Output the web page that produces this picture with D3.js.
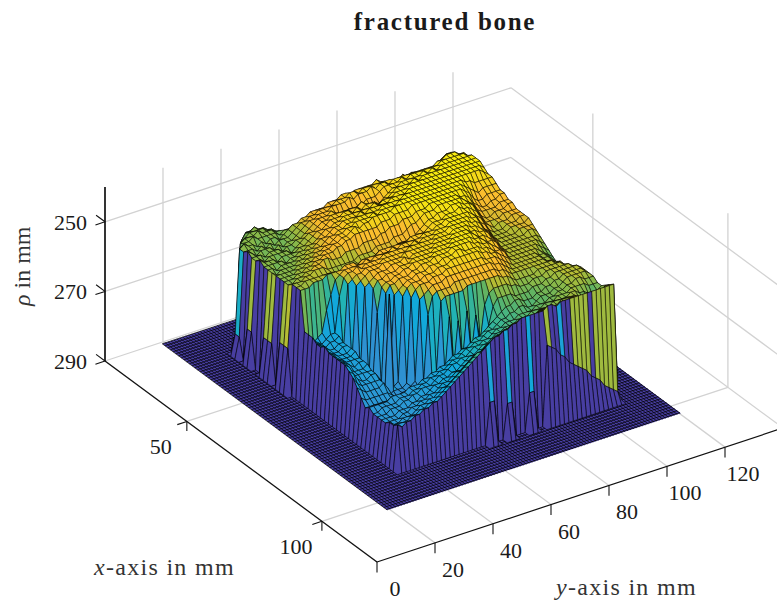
<!DOCTYPE html>
<html>
<head>
<meta charset="utf-8">
<script src="https://cdnjs.cloudflare.com/ajax/libs/d3/7.8.5/d3.min.js"></script>
<style>
    html, body { margin: 0; padding: 0; background: #fff; }
    text { font-family: "Liberation Serif", "DejaVu Serif", serif; fill: #1a1a1a; }
</style>
</head>
<body>
<div id="container"></div>
<script>
// rho values, one row per x position (1.5 mm apart, starting x = 25)
// each row runs along y from 34.5 mm, short rows are floor after the last value
var rhoRows = [
[290,290,290,290,290,264,262,262,263,264],
[290,290,290,290,263,261,261,260,261,261,262,263],
[290,290,290,262,261,260,260,260,260,261,261,262,263],
[290,290,261,260,260,260,259,260,260,260,261,261,262],
[290,261,260,260,259,260,260,260,260,260,261,260,260,261,290,290,290,290,290,290,290,290,290,290,290,290,290,290,290,290,290,290,290,290,290,290,290,290,290,290,290,290,290,290,258,257,256,256,257,259],
[260,259,260,260,261,260,261,260,260,261,260,259,258,258,257,257,256,256,256,256,255,255,255,254,254,255,254,254,254,254,254,253,254,255,255,255,255,254,255,255,255,257,259,258,255,254,253,253,254,255],
[260,260,260,261,260,261,260,261,260,260,260,259,258,257,257,256,256,255,255,255,255,254,254,254,253,253,254,253,253,253,253,253,253,253,254,254,254,254,253,254,255,256,256,255,253,252,251,251,252,253],
[259,260,261,260,260,260,261,260,261,260,260,259,258,257,256,256,255,255,255,254,254,254,254,253,254,253,253,253,252,253,252,252,253,252,252,252,252,252,252,252,252,252,252,251,251,250,250,250,251,251],
[260,260,260,261,260,260,260,261,260,260,259,259,258,257,256,255,255,255,254,255,256,256,255,256,255,255,254,254,254,253,252,252,252,252,251,252,251,251,251,251,251,251,251,250,250,250,250,250,250,251],
[260,260,261,260,260,260,260,260,261,260,259,258,257,257,256,255,255,254,254,254,254,254,254,254,253,254,255,256,255,254,253,252,252,251,251,251,251,251,250,251,250,251,250,250,250,250,250,250,250,250],
[259,260,260,260,261,260,260,260,260,259,259,258,257,256,256,255,254,254,254,253,253,254,253,254,253,253,253,254,254,253,252,251,251,251,251,250,251,250,250,250,250,250,250,250,250,250,250,250,250,250],
[260,260,260,260,260,261,260,260,259,259,258,258,257,256,255,255,254,254,253,253,253,253,253,253,253,252,253,252,252,252,251,251,251,250,250,250,250,250,250,250,250,250,250,250,250,250,250,250,250,250],
[260,260,261,260,260,260,260,259,259,258,258,257,256,256,255,254,254,253,253,253,253,252,253,252,252,252,252,252,251,251,251,251,250,250,250,250,250,250,250,250,250,250,250,250,250,250,250,250,250,251],
[260,261,260,260,260,260,259,259,258,258,257,257,256,255,255,254,254,253,253,252,252,252,252,252,252,251,251,251,251,251,250,250,250,250,250,250,250,250,250,250,250,250,250,250,250,250,250,250,251,252],
[260,260,260,260,260,259,259,258,258,257,257,256,256,255,254,254,253,253,252,252,252,252,251,252,251,251,251,251,250,250,250,250,250,250,250,250,250,250,250,250,250,250,250,251,251,252,252,252,252,252],
[260,260,260,260,259,259,258,258,257,257,256,256,255,255,254,254,253,252,253,252,252,251,251,251,251,251,250,250,250,250,250,250,250,250,250,250,250,250,250,250,250,250,251,252,253,254,253,253,253,253],
[260,260,260,259,259,258,258,257,257,256,256,256,255,255,254,254,253,253,253,253,253,253,252,252,252,251,251,251,251,250,250,250,250,250,250,250,250,250,250,250,250,251,252,254,255,255,254,254,254,254],
[260,260,259,259,258,258,257,257,256,256,257,257,257,256,256,256,256,255,255,255,255,254,254,253,253,253,252,252,252,251,251,251,250,250,250,250,250,250,250,251,251,252,254,255,256,256,255,255,254,254],
[259,259,259,258,258,257,257,257,258,258,258,258,258,258,258,257,257,257,257,256,256,256,256,255,255,255,254,253,253,252,251,251,251,250,250,250,250,250,250,251,252,253,255,256,256,256,256,255,255,255],
[259,259,258,258,258,258,258,258,258,259,259,259,258,259,258,258,258,258,257,257,257,257,257,256,256,256,256,255,254,253,252,252,251,251,251,250,250,250,251,251,252,254,256,257,257,256,256,256,255,255],
[259,259,259,258,258,258,257,257,257,257,256,256,256,257,256,256,256,256,255,255,255,255,255,255,255,254,254,254,254,253,252,252,252,251,251,251,250,251,251,252,253,255,257,257,257,257,256,256,256,256],
[270,272,274,273,272,266,262,258,257,256,256,256,256,256,255,256,255,255,255,255,254,255,254,254,254,254,254,253,253,253,252,252,251,251,251,251,251,251,252,253,254,256,257,258,257,257,257,256,256,256],
[270,272,273,274,273,272,272,262,257,256,256,255,256,255,255,255,255,254,254,254,254,254,254,254,253,254,253,253,253,252,252,252,251,251,251,251,251,252,252,254,255,257,258,258,258,257,257,257,256,256],
[270,272,273,274,273,273,272,277,258,257,256,256,255,255,255,255,254,254,254,254,254,254,253,253,253,253,253,253,252,252,252,251,251,251,251,251,252,252,253,255,256,258,258,258,258,257,257,257,257,256],
[271,272,273,274,274,273,273,277,280,258,257,256,255,255,255,254,254,254,254,254,253,253,253,253,253,253,253,252,252,252,252,251,251,251,251,252,252,253,254,255,257,258,258,258,258,258,257,257,257,257],
[271,272,274,274,274,273,273,276,281,282,258,257,256,255,255,255,254,254,254,253,254,253,253,253,253,253,252,252,252,252,251,251,251,251,252,252,253,253,254,256,257,258,258,258,258,258,258,257,257,258],
[270,272,273,274,274,274,273,276,280,283,284,258,256,256,255,255,255,254,254,254,253,253,253,253,253,252,252,252,252,251,251,251,251,251,252,253,253,254,255,256,258,258,258,258,258,258,258,258,258,259],
[271,272,274,274,274,274,273,276,281,282,283,264,257,256,256,255,255,254,254,253,253,253,253,253,252,252,252,252,251,251,251,251,251,252,252,253,254,254,255,257,258,258,258,258,258,258,258,258,259,260],
[271,272,273,274,274,274,274,276,280,283,282,284,258,256,256,255,255,255,254,254,253,253,253,252,252,252,252,251,251,251,251,251,252,252,253,253,254,255,256,257,258,258,258,258,258,258,258,259,260,261],
[271,272,273,274,275,274,274,277,281,282,284,283,283,258,257,256,255,255,254,254,254,253,253,253,252,252,252,251,251,252,252,252,252,253,253,254,255,255,256,258,258,258,258,258,258,258,259,260,261,262],
[271,272,274,275,275,275,274,277,281,283,283,256,283,282,258,256,255,255,255,254,254,254,253,253,253,252,252,252,252,252,252,252,253,253,254,254,255,256,257,258,258,258,258,258,258,259,259,260,262,263],
[271,272,275,275,275,275,275,277,281,282,284,283,283,283,282,258,256,255,255,255,254,254,254,253,253,253,253,253,253,253,253,253,254,254,254,255,256,257,258,258,258,258,258,258,258,259,259,260,262,263],
[272,273,275,276,276,275,275,277,280,283,283,284,283,283,282,281,258,257,256,255,255,255,254,254,254,254,254,254,254,254,254,254,254,255,255,256,257,258,258,258,258,258,258,258,258,259,259,260,262,263],
[273,275,276,276,276,276,276,278,281,282,284,283,283,284,283,282,281,262,257,256,256,256,256,255,255,255,255,255,255,255,255,255,255,256,256,257,258,258,258,258,258,258,258,258,258,258,259,259,261,262],
[275,276,277,277,277,277,276,278,281,283,283,284,284,283,282,282,281,279,278,258,257,257,257,257,257,256,256,256,256,256,256,256,256,257,257,258,259,259,259,259,259,258,258,258,258,258,258,259,260,261],
[277,278,278,278,278,278,278,279,280,282,283,283,283,282,282,281,281,280,279,278,262,277,264,276,262,275,264,272,262,259,258,258,258,258,259,259,260,260,260,259,259,259,258,258,258,258,258,258,259,260],
[279,279,279,279,279,279,279,279,280,280,280,280,280,280,279,279,279,278,278,276,276,275,275,274,273,272,272,270,267,262,260,260,260,260,261,261,261,261,260,260,260,259,259,258,258,258,258,258,258,259],
[278,278,278,278,278,277,277,277,277,276,276,276,275,275,274,274,273,273,272,271,271,270,270,269,268,268,267,266,265,264,263,262,262,261,261,262,262,262,261,261,260,260,259,259,258,258,258,258,258,259],
[279,279,278,278,278,278,277,277,277,276,276,275,275,274,274,273,273,272,271,271,270,269,269,268,268,267,266,266,265,264,264,263,263,262,262,263,263,262,261,261,261,260,260,259,258,258,258,258,258,259],
[279,279,279,278,278,278,277,277,276,276,275,275,275,274,273,273,272,271,271,270,270,269,268,268,267,267,266,265,265,264,264,264,263,263,263,263,262,262,262,261,261,260,260,259,259,258,258,259,259,259],
[279,279,279,279,278,278,278,277,277,276,276,275,274,274,273,273,272,272,271,270,269,269,268,267,267,266,265,265,264,264,264,263,263,263,262,262,262,261,261,261,260,260,260,259,259,259,259,260,260,260],
[279,279,279,279,278,278,277,277,276,276,275,275,274,273,273,272,271,271,270,269,268,268,267,266,266,265,265,264,264,263,263,263,262,262,262,261,261,261,260,260,260,260,259,259,260,260,261,262,261,260],
[278,279,279,278,278,278,277,276,276,275,275,274,273,273,272,271,270,269,268,267,267,266,265,265,264,263,263,262,262,262,262,261,261,261,260,260,260,260,260,259,259,259,259,260,261,262,262,261,260,259],
[278,278,278,278,277,277,276,276,275,275,274,273,272,271,270,269,268,267,266,265,265,264,263,262,262,261,261,260,260,260,260,260,260,259,259,259,259,259,259,259,258,258,259,260,260,260,259,259,258,258],
[277,278,277,277,276,276,275,275,274,274,273,272,271,270,269,268,267,266,265,264,263,262,261,261,260,260,259,259,258,258,258,258,258,258,257,257,258,257,257,257,257,257,257,257,257,257,257,257,257,257]
];
// the row just in front of the top edge: lower end of the front wall stripes and their colour value
var frontEdge = [290,290,290,290,290,290,290,290,290,290,290,290,290,290,290,290,290,290,290,290,278,278,290,290,280,280,290,290,290,279,279,290,290,267,268,269,271,272,274,275,276,277,278,280,281,282,284,285,286,287];
var frontTone = [290,290,290,290,290,290,290,290,290,290,290,290,290,290,290,290,290,290,290,290,274,290,290,290,274,290,290,290,290,272,290,290,290,259,290,290,274,290,290,259,259,259,259,290,259,259,259,259,259,259];
// left wall stripes
var leftRows = [6,9,13,14,17,18];
var leftTip = [284,280,279,279,277,277];
var leftTone = [270,259,259,259,259,258];
var xTicks = [50,100];
var yTicks = [0,20,40,60,80,100,120];
var zTicks = [250,270,290];
var floorRho = 290;

var WIDTH = 777, HEIGHT = 600;
var XMIN = 19.7, XMAX = 120.4, YMAX = 140, ZTOP = 240;
var ORIGIN = [377, 562];

var xScale = d3.scaleLinear().domain([XMIN, XMAX]).range([[-272, -201], [0, 0]]);
var yScale = d3.scaleLinear().domain([0, YMAX]).range([[0, 0], [406, -134]]);
var zScale = d3.scaleLinear().domain([ZTOP, floorRho]).range([-174, 0]);

var colour = d3.scaleLinear()
    .domain([250, 251, 253, 255, 256.5, 258, 260, 262, 265, 268, 272, 277, 284, 288, 290])
    .range(['#f9ec10', '#f5e214', '#f3d01e', '#fbbe2e', '#f0b82e', '#b5bc34', '#88b84a', '#62b462', '#3cb58f', '#22b3b4', '#12a8da', '#2a9bd6', '#2f8fd0', '#4368c4', '#483ea2'])
    .clamp(true);

function project(x, y, z) {
    var a = xScale(x), b = yScale(y);
    return [ORIGIN[0] + a[0] + b[0], ORIGIN[1] + a[1] + b[1] + zScale(z)];
}

// assemble the height grid, floor all round the typed part
var rowX = d3.range(0, 48).map(function(r) { return 23.5 + 1.5 * r; });
var colY = d3.range(0, 53).map(function(j) { return 31.46 + 1.52 * j; });

function buildGrid() {
    var grid = rowX.map(function(x, r) {
        var row = colY.map(function() { return floorRho; });
        if (r >= 1 && r <= rhoRows.length) {
            rhoRows[r - 1].forEach(function(v, c) { row[c + 2] = v; });
        }
        if (r === 46) {
            frontEdge.forEach(function(v, c) { row[c + 2] = v; });
        }
        return row;
    });
    leftRows.forEach(function(r, i) {
        grid[r][1] = leftTip[i];
        grid[r + 1][1] = leftTip[i];
    });
    return grid;
}

var svg = d3.select('#container').append('svg')
    .attr('width', WIDTH).attr('height', HEIGHT)
    .style('display', 'block');

var line = d3.line();
function seg(g, a, b, col, w) {
    g.append('path')
        .attr('d', line([project.apply(null, a), project.apply(null, b)]))
        .attr('fill', 'none').attr('stroke', col).attr('stroke-width', w);
}

function drawGridLines() {
    var g = svg.append('g').attr('class', 'grid');
    var col = '#d2d2d2';
    yTicks.forEach(function(y) {
        seg(g, [XMIN, y, floorRho], [XMAX, y, floorRho], col, 1.3);
        if (y > 0) seg(g, [XMIN, y, floorRho], [XMIN, y, ZTOP], col, 1.3);
    });
    xTicks.forEach(function(x) {
        seg(g, [x, 0, floorRho], [x, YMAX, floorRho], col, 1.3);
        seg(g, [x, YMAX, floorRho], [x, YMAX, ZTOP], col, 1.3);
    });
    zTicks.forEach(function(z) {
        seg(g, [XMIN, 0, z], [XMIN, YMAX, z], col, 1.3);
        seg(g, [XMIN, YMAX, z], [XMAX, YMAX, z], col, 1.3);
    });
}

function drawFloor() {
    var g = svg.append('g').attr('class', 'floor');
    var x0 = 20.3, x1 = 103.6, y0 = 19.2, y1 = 120.4;
    g.append('path')
        .attr('d', line([[x0, y0], [x1, y0], [x1, y1], [x0, y1]].map(function(p) {
            return project(p[0], p[1], floorRho);
        })) + 'Z')
        .attr('fill', colour(floorRho));
    d3.range(x0, x1 + 0.1, 1).forEach(function(x) {
        seg(g, [x, y0, floorRho], [x, y1, floorRho], '#000', 0.7);
    });
    d3.range(y0, y1 + 0.1, 1).forEach(function(y) {
        seg(g, [x0, y, floorRho], [x1, y, floorRho], '#000', 0.7);
    });
}

function drawSurface() {
    var grid = buildGrid();
    var faces = [];
    // painter's order, far corner first
    for (var r = 0; r < rowX.length - 1; r++) {
        for (var j = colY.length - 2; j >= 0; j--) {
            var a = grid[r][j], b = grid[r][j + 1], c = grid[r + 1][j + 1], d = grid[r + 1][j];
            if (a === floorRho && b === floorRho && c === floorRho && d === floorRho) continue;
            var tone = d;
            // cliff faces inside the plateau read cyan in the reference
            if (d < floorRho && d - a > 10) tone = d - 9;
            if (j === 0) tone = floorRho;
            if (j === 1) {
                var k = leftRows.indexOf(r);
                tone = k >= 0 ? leftTone[k] : floorRho;
            }
            if (r === 45 && j >= 2 && j - 2 < frontTone.length) tone = frontTone[j - 2];
            faces.push({
                pts: [
                    project(rowX[r], colY[j], a),
                    project(rowX[r], colY[j + 1], b),
                    project(rowX[r + 1], colY[j + 1], c),
                    project(rowX[r + 1], colY[j], d)
                ],
                tone: tone
            });
        }
    }
    svg.append('g').attr('class', 'surface').selectAll('path')
        .data(faces)
        .join('path')
        .attr('d', function(f) { return line(f.pts) + 'Z'; })
        .attr('fill', function(f) { return colour(f.tone); })
        .attr('stroke', '#000')
        .attr('stroke-width', 0.55)
        .attr('stroke-linejoin', 'round');
}

function drawAxes() {
    var g = svg.append('g').attr('class', 'axes');
    var ink = '#111';
    seg(g, [XMIN, 0, floorRho], [XMIN, 0, ZTOP], '#000', 1.6);
    seg(g, [XMIN, 0, floorRho], [XMAX, 0, floorRho], ink, 1.2);
    seg(g, [XMAX, 0, floorRho], [XMAX, YMAX, floorRho], ink, 1.2);

    var tick = 3.3;
    zTicks.forEach(function(z) {
        seg(g, [XMIN, 0, z], [XMIN - tick, 0, z], ink, 1.1);
        seg(g, [XMIN, 0, z], [XMIN, -tick, z], ink, 1.1);
        g.append('text').attr('x', 87).attr('y', project(XMIN, 0, z)[1] + 8)
            .attr('text-anchor', 'end').attr('font-size', 22).text(z);
    });
    xTicks.forEach(function(x) {
        seg(g, [x, 0, floorRho], [x, -tick, floorRho], ink, 1.1);
        seg(g, [x, 0, floorRho], [x, 0, floorRho + 2.7], ink, 1.1);
        var p = project(x, 0, floorRho);
        g.append('text').attr('x', p[0] - 26).attr('y', p[1] + 33)
            .attr('text-anchor', 'middle').attr('font-size', 22).text(x);
    });
    yTicks.forEach(function(y) {
        seg(g, [XMAX, y, floorRho], [XMAX, y, floorRho + 3], ink, 1.1);
        var p = project(XMAX, y, floorRho);
        g.append('text').attr('x', p[0] + 18).attr('y', p[1] + 34)
            .attr('text-anchor', 'middle').attr('font-size', 22).text(y);
    });
}

function drawLabels() {
    svg.append('text').attr('x', 445).attr('y', 30)
        .attr('text-anchor', 'middle').attr('font-size', 25).attr('font-weight', 'bold')
        .style('letter-spacing', '1.7px')
        .text('fractured bone');

    var xl = svg.append('text').attr('x', 94).attr('y', 575).attr('font-size', 24)
        .style('fill', '#333').style('letter-spacing', '1.3px');
    xl.append('tspan').attr('font-style', 'italic').text('x');
    xl.append('tspan').text('-axis in mm');

    var yl = svg.append('text').attr('x', 556).attr('y', 595).attr('font-size', 24)
        .style('fill', '#333').style('letter-spacing', '1.3px');
    yl.append('tspan').attr('font-style', 'italic').text('y');
    yl.append('tspan').text('-axis in mm');

    var zl = svg.append('text').attr('transform', 'translate(30,306) rotate(-90)')
        .attr('font-size', 24).style('fill', '#333');
    zl.append('tspan').attr('font-style', 'italic').text('ρ');
    zl.append('tspan').text(' in mm');
}

drawGridLines();
drawFloor();
drawSurface();
drawAxes();
drawLabels();
</script>
</body>
</html>
